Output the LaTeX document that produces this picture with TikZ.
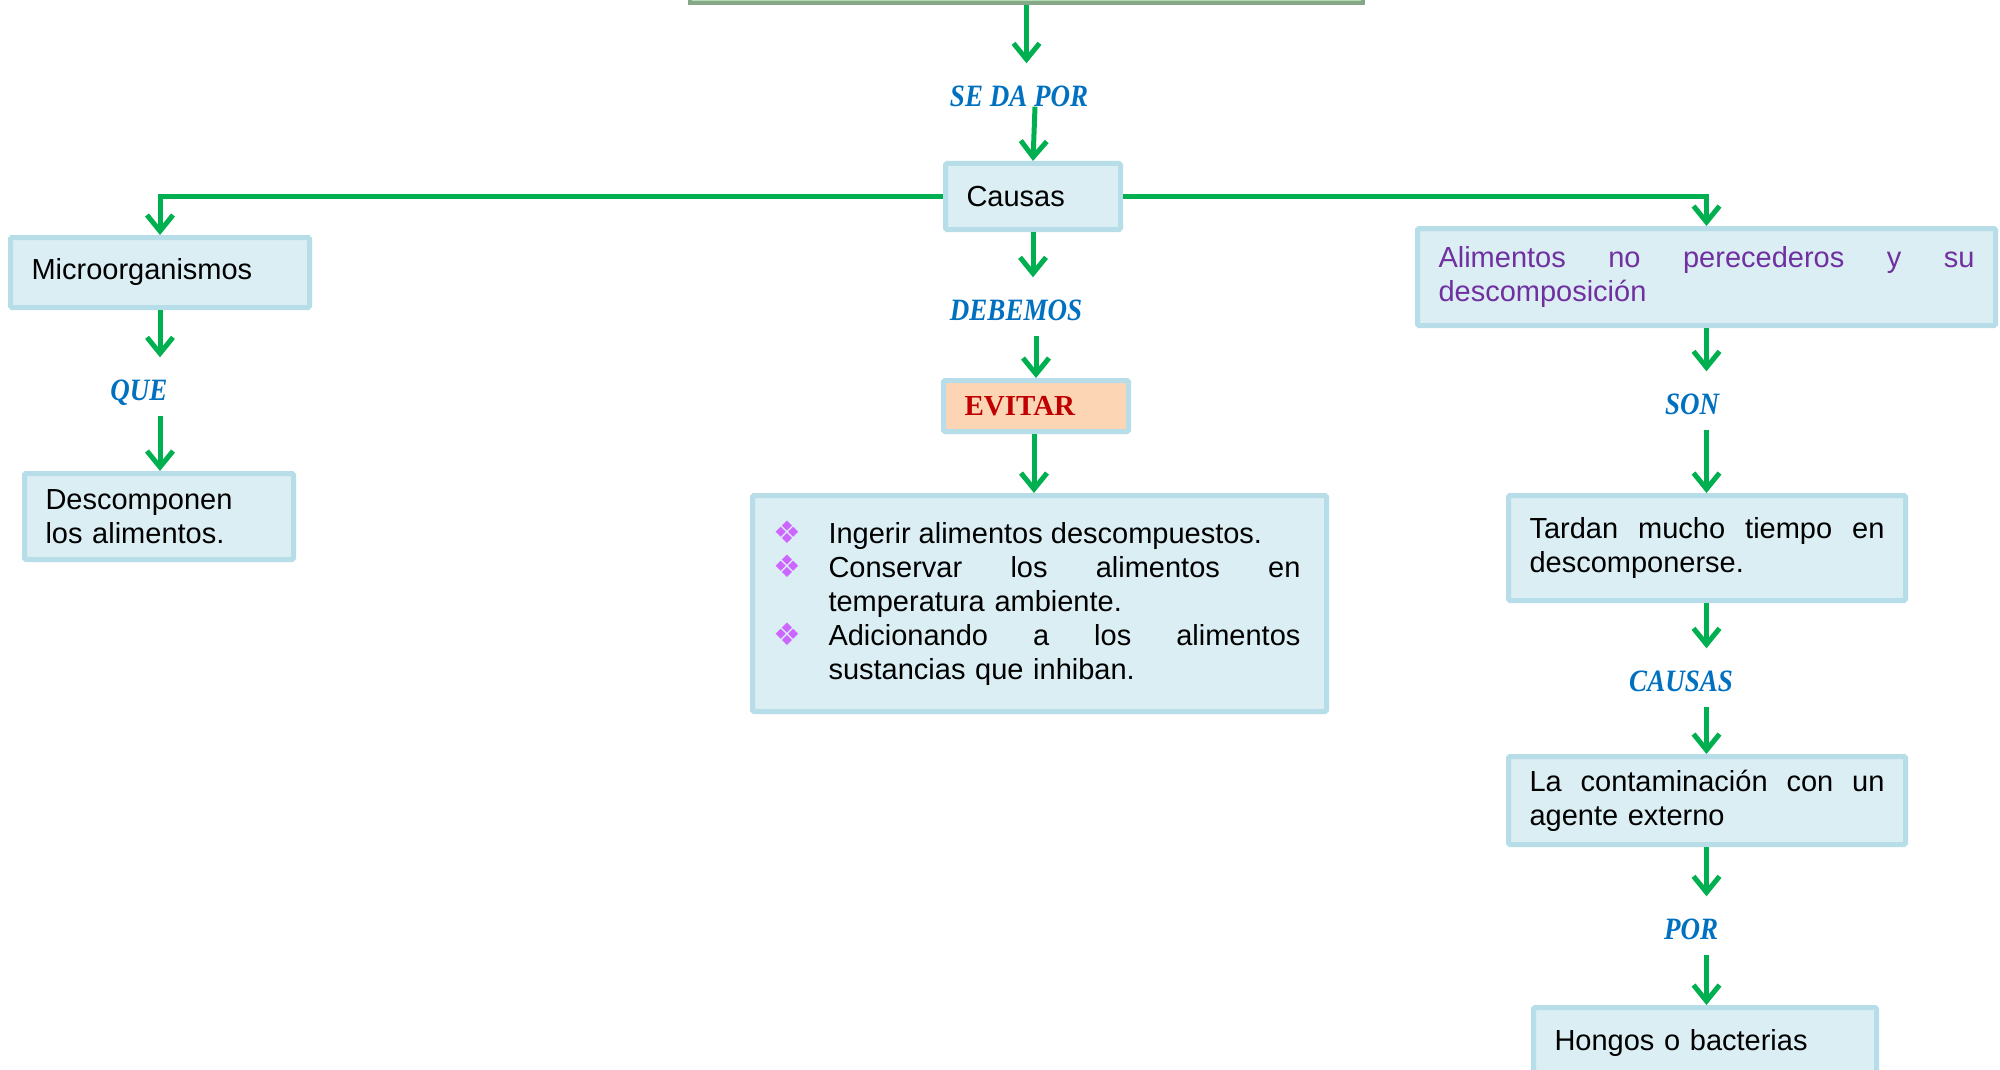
\documentclass[tikz,border=0pt]{standalone}
\usepackage{fontspec}
\setmainfont{Liberation Sans}
\newfontfamily\lblfont{Liberation Serif}
\newfontfamily\symfont{DejaVu Sans}
\usetikzlibrary{arrows.meta,calc}
\definecolor{boxfill}{HTML}{DAEEF3}
\definecolor{boxline}{HTML}{B7DDE8}
\definecolor{peach}{HTML}{FCD5B4}
\definecolor{arrgreen}{HTML}{00B050}
\definecolor{lblblue}{HTML}{0070C0}
\definecolor{purpletext}{HTML}{7030A0}
\definecolor{darkred}{HTML}{C00000}
\definecolor{bulcol}{HTML}{CC66FF}
\definecolor{topfill}{HTML}{86A886}
\definecolor{topedge}{HTML}{B3DDB3}
\newcommand{\mybul}{\makebox[55pt][l]{\textcolor{bulcol}{\symfont\fontsize{31}{34}\selectfont ❖}}}
\newcommand{\jline}[2]{\hbox to #1{\spaceskip=0.278em plus 10em\relax #2}}
\newcommand{\lbltext}[1]{\scalebox{1}[1.15]{#1}}
\begin{document}
\begin{tikzpicture}[x=1pt,y=-1pt,
  txt/.style={font=\fontsize{29}{34}\selectfont},
  cbox/.style={txt, draw=boxline, fill=boxfill, line width=5pt, rounded corners=1.5pt,
     anchor=north west, inner xsep=21pt, inner ysep=0pt, align=left},
  lbl/.style={font=\lblfont\bfseries\itshape\fontsize{27}{30}\selectfont, text=lblblue,
     inner sep=0pt, text height=19pt, text depth=0pt},
  arr/.style={draw=arrgreen, line width=5pt,
     -{Straight Barb[length=16pt,width=26pt,line width=5pt]}},
  intolbl/.style={shorten >=24pt},
  fromlbl/.style={shorten <=15pt}]
\clip (0,0) rectangle (2000,1070);
\fill[white] (0,0) rectangle (2000,1070);

% top (cut-off) box
\node[draw=topfill, fill=topedge, line width=4pt, anchor=south west, minimum width=673pt,
  minimum height=40pt, inner sep=0pt] (top) at (688,5) {};

% labels
\node[lbl] (sedapor) at (1019,97) {\lbltext{SE DA POR}};
\node[lbl] (debemos) at (1016,311) {\lbltext{DEBEMOS}};
\node[lbl] (que) at (139,391) {\lbltext{QUE}};
\node[lbl] (son) at (1692,405) {\lbltext{SON}};
\node[lbl] (causasl) at (1681,682) {\lbltext{CAUSAS}};
\node[lbl] (por) at (1691,930) {\lbltext{POR}};

% boxes
\node[cbox, minimum width=175pt, minimum height=66pt, text width=133pt] (causas) at (943,161) {Causas};
\node[cbox, minimum width=299pt, minimum height=70pt, text width=257pt] (micro) at (8,235) {Microorganismos};
\node[cbox, minimum width=269pt, minimum height=86pt, text width=227pt] (desc) at (22,471) {Descomponen\\los alimentos.};
\node[cbox, fill=peach, minimum width=185pt, minimum height=51pt, text width=143pt,
  font=\lblfont\bfseries\fontsize{29}{34}\selectfont, text=darkred] (evitar) at (941,378) {EVITAR};
\node[cbox, minimum width=574pt, minimum height=216pt, text width=532pt] (list) at (750,493)
  {\mybul\jline{472pt}{Ingerir alimentos descompuestos.\hfil}\\
   \mybul\jline{472pt}{Conservar los alimentos en}\\
   \hspace*{55pt}temperatura ambiente.\\
   \mybul\jline{472pt}{Adicionando a los alimentos}\\
   \hspace*{55pt}sustancias que inhiban.};
\node[cbox, minimum width=578pt, minimum height=97pt, text width=536pt, text=purpletext] (alim) at (1415,226)
  {\jline{536pt}{Alimentos no perecederos y su}\\descomposición};
\node[cbox, minimum width=397pt, minimum height=105pt, text width=355pt] (tardan) at (1506,493)
  {\jline{355pt}{Tardan mucho tiempo en}\\descomponerse.};
\node[cbox, minimum width=397pt, minimum height=88pt, text width=355pt] (contam) at (1506,754)
  {\jline{355pt}{La contaminación con un}\\agente externo};
\node[cbox, minimum width=343pt, minimum height=70pt, text width=301pt] (hongos) at (1531,1005)
  {Hongos o bacterias};

% connectors
\draw[arr, intolbl] (top.south) -- (top.south |- sedapor.north);
\draw[arr] ($(sedapor.south)+(16,0)$) -- (causas.north);
\draw[arr, intolbl] (causas.south) -- (causas.south |- debemos.north);
\draw[arr, fromlbl] (debemos.south -| evitar.north) -- (evitar.north);
\draw[arr] ($(evitar.south)+(-2,0)$) -- ($(evitar.south |- list.north)+(-2,0)$);
\draw[arr] (causas.west) -| (micro.north);
\draw[arr] (causas.east) -| (alim.north);
\draw[arr, intolbl] (micro.south) -- (micro.south |- que.north);
\draw[arr, fromlbl] (que.south -| micro.south) -- (micro.south |- desc.north);
\draw[arr, intolbl] (alim.south) -- (alim.south |- son.north);
\draw[arr, fromlbl] (son.south -| alim.south) -- (tardan.north -| alim.south);
\draw[arr, intolbl] (tardan.south -| alim.south) -- (alim.south |- causasl.north);
\draw[arr, fromlbl] (causasl.south -| alim.south) -- (contam.north -| alim.south);
\draw[arr, intolbl] (contam.south -| alim.south) -- (alim.south |- por.north);
\draw[arr, fromlbl] (por.south -| alim.south) -- (hongos.north -| alim.south);
\end{tikzpicture}
\end{document}
